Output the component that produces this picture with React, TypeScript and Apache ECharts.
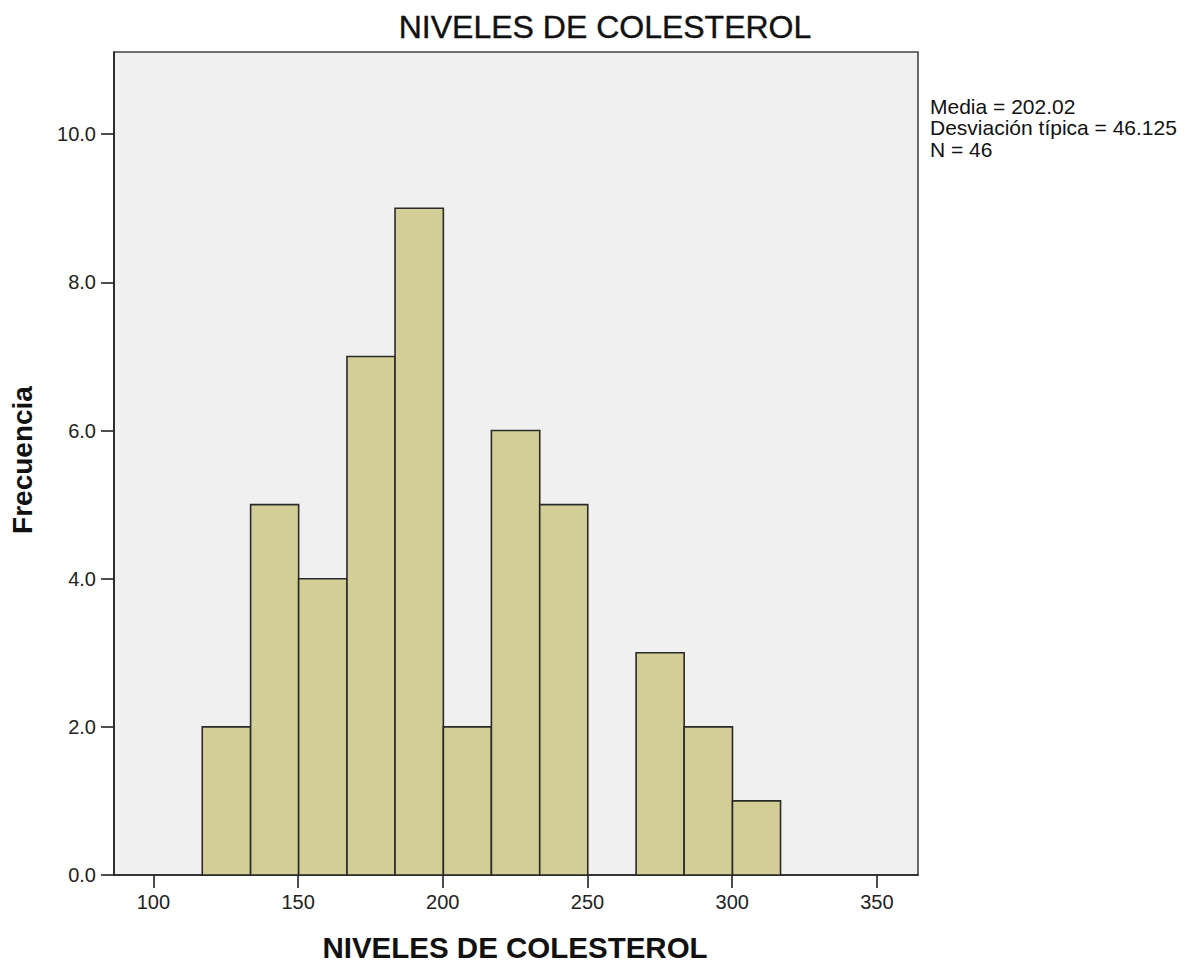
import React, { useEffect, useRef } from "react";
import * as echarts from "echarts";

// Histogram bins: edges of each bar on the cholesterol scale and their frequencies
const binEdges = [116.9, 133.6, 150.2, 166.9, 183.5, 200.2, 216.8, 233.5, 250.1, 266.8, 283.4, 300.1, 316.7];
const frequencies = [2, 5, 4, 7, 9, 2, 6, 5, 0, 3, 2, 1];

// Axis ticks
const xTickValues = [100, 150, 200, 250, 300, 350];
const yTickValues = [0, 2, 4, 6, 8, 10];
const xRange = [86.4, 364.2];
const yRange = [0, 11.11];

// Texts
const chartTitle = "NIVELES DE COLESTEROL";
const xAxisTitle = "NIVELES DE COLESTEROL";
const yAxisTitle = "Frecuencia";
const statLines = ["Media = 202.02", "Desviación típica = 46.125", "N = 46"];

const FONT = "'Liberation Sans', Arial, sans-serif";

export default function App() {
  const ref = useRef<HTMLDivElement>(null);

  useEffect(() => {
    if (!ref.current) return;
    const chart = echarts.init(ref.current, undefined, { renderer: "svg" });

    const bins = frequencies.map((f, i) => [binEdges[i], binEdges[i + 1], f]);

    chart.setOption({
      animation: false,
      backgroundColor: "#ffffff",
      textStyle: { fontFamily: FONT },
      grid: {
        left: 114,
        right: 268,
        top: 52,
        bottom: 88,
        show: true,
        backgroundColor: "#f0f0f0",
        borderColor: "#444444",
        borderWidth: 1.6,
      },
      xAxis: {
        type: "value",
        min: xRange[0],
        max: xRange[1],
        splitLine: { show: false },
        axisLine: { show: true, onZero: false, lineStyle: { color: "#222222", width: 1.6 } },
        axisTick: {
          show: true,
          length: 13,
          customValues: xTickValues,
          lineStyle: { color: "#222222", width: 1.6 },
        },
        axisLabel: {
          customValues: xTickValues,
          margin: 17,
          fontSize: 20,
          color: "#222222",
          fontFamily: FONT,
        },
      },
      yAxis: {
        type: "value",
        min: yRange[0],
        max: yRange[1],
        splitLine: { show: false },
        axisLine: { show: true, lineStyle: { color: "#222222", width: 1.6 } },
        axisTick: {
          show: true,
          length: 13,
          customValues: yTickValues,
          lineStyle: { color: "#222222", width: 1.6 },
        },
        axisLabel: {
          customValues: yTickValues,
          margin: 18,
          fontSize: 20,
          color: "#222222",
          fontFamily: FONT,
          formatter: (v: number) => v.toFixed(1),
        },
      },
      series: [
        {
          type: "custom",
          data: bins,
          encode: { x: [0, 1], y: 2 },
          renderItem: (params: any, api: any) => {
            const count = api.value(2);
            if (!count) return null;
            const p0 = api.coord([api.value(0), 0]);
            const p1 = api.coord([api.value(1), count]);
            return {
              type: "rect",
              shape: { x: p0[0], y: p1[1], width: p1[0] - p0[0], height: p0[1] - p1[1] },
              style: { fill: "#d3ce97", stroke: "#2a2a2a", lineWidth: 1.6 },
            };
          },
        },
      ],
      graphic: [
        {
          type: "text",
          x: 605,
          y: 26.5,
          style: {
            text: chartTitle,
            font: `32px ${FONT}`,
            fill: "#111111",
            stroke: "#111111",
            lineWidth: 0.4,
            align: "center",
            verticalAlign: "middle",
          },
        },
        {
          type: "text",
          x: 515,
          y: 947,
          style: {
            text: xAxisTitle,
            font: `bold 29.5px ${FONT}`,
            lineHeight: 26,
            fill: "#111111",
            align: "center",
            verticalAlign: "middle",
          },
        },
        {
          type: "text",
          x: 22,
          y: 460,
          rotation: Math.PI / 2,
          style: {
            text: yAxisTitle,
            font: `bold 28px ${FONT}`,
            fill: "#111111",
            align: "center",
            verticalAlign: "middle",
          },
        },
        ...statLines.map((line, i) => ({
          type: "text",
          x: 930,
          y: 106 + i * 21.6,
          style: {
            text: line,
            font: `21px ${FONT}`,
            fill: "#111111",
            align: "left",
            verticalAlign: "middle",
          },
        })),
      ],
    });

    return () => chart.dispose();
  }, []);

  return (
    <div
      ref={ref}
      style={{ position: "fixed", left: 0, top: 0, width: 1186, height: 963, background: "#ffffff" }}
    />
  );
}
